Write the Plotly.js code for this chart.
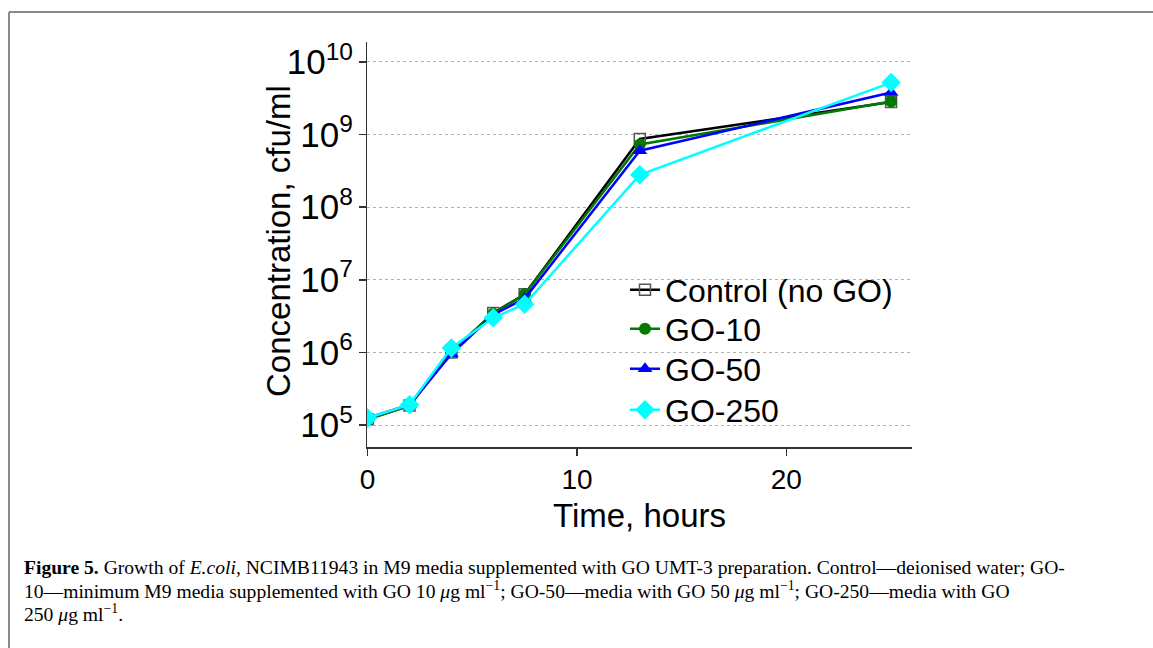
<!DOCTYPE html>
<html>
<head>
<meta charset="utf-8">
<script src="https://cdn.plot.ly/plotly-3.0.1.min.js"></script>
<style>
  html, body { margin: 0; padding: 0; background: #fff; }
  #chart { width: 1153px; height: 648px; }
</style>
</head>
<body>
<div id="chart"></div>
<script>
// ---- data ----
const timeHours = [0, 2, 4, 6, 7.5, 13, 25];
const seriesNames = ["Control (no GO)", "GO-10", "GO-50", "GO-250"];
const controlCfu = [1.2e5, 1.85e5, 1.0e6, 3.5e6, 6.3e6, 8.7e8, 2.8e9];
const go10Cfu    = [1.2e5, 1.85e5, 1.05e6, 3.4e6, 6.3e6, 7.3e8, 2.85e9];
const go50Cfu    = [1.25e5, 1.9e5, 0.95e6, 3.3e6, 5.5e6, 6.0e8, 3.8e9];
const go250Cfu   = [1.25e5, 1.9e5, 1.15e6, 3.0e6, 4.6e6, 2.8e8, 5.2e9];

const xTitle = "Time, hours";
const yTitle = "Concentration, cfu/ml";
const captionLines = [
  "<b>Figure 5.</b> Growth of <i>E.coli</i>, NCIMB11943 in M9 media supplemented with GO UMT-3 preparation. Control\u2014deionised water; GO-",
  "10\u2014minimum M9 media supplemented with GO 10 <i>\u03bc</i>g ml<sup>\u22121</sup>; GO-50\u2014media with GO 50 <i>\u03bc</i>g ml<sup>\u22121</sup>; GO-250\u2014media with GO",
  "250 <i>\u03bc</i>g ml<sup>\u22121</sup>."
];

// ---- layout geometry (pixels) ----
const W = 1153, H = 648;
const M = { l: 367, r: 241, t: 42, b: 201 };
const plotW = W - M.l - M.r, plotH = H - M.t - M.b;
const px2x = p => (p - M.l) / plotW;
const px2y = p => (H - M.b - p) / plotH;

const sans = "Liberation Sans, Arial, sans-serif";
const serif = "Liberation Serif, Times New Roman, serif";

const styles = [
  { color: "#000000", symbol: "square-open", size: 11, mline: 1.5 },
  { color: "#007a00", symbol: "circle", size: 12, mline: 0 },
  { color: "#0000ff", symbol: "triangle-up", size: 13, mline: 0 },
  { color: "#00ffff", symbol: "diamond", size: 15, mline: 0 }
];
const values = [controlCfu, go10Cfu, go50Cfu, go250Cfu];
const legendIds = ["legend", "legend2", "legend3", "legend4"];
const legendRowY = [290, 329, 369, 410];

const traces = values.map((v, i) => ({
  x: timeHours,
  y: v,
  name: seriesNames[i],
  legend: legendIds[i],
  type: "scatter",
  mode: "lines+markers",
  line: { color: styles[i].color, width: 2.5 },
  marker: {
    symbol: styles[i].symbol,
    size: styles[i].size,
    color: i === 0 ? "#555555" : styles[i].color,
    line: { width: styles[i].mline, color: i === 0 ? "#555555" : styles[i].color }
  }
}));

const captionAnn = captionLines.map((t, i) => ({
  xref: "paper", yref: "paper", x: px2x(22), y: px2y(567 + 23 * i),
  xanchor: "left", yanchor: "middle", align: "left", showarrow: false,
  text: t,
  font: { family: serif, size: 19.6, color: "#000" }
}));

const layout = {
  width: W, height: H,
  margin: M,
  paper_bgcolor: "#fff",
  plot_bgcolor: "#fff",
  font: { family: sans, color: "#000" },
  showlegend: true,
  xaxis: {
    range: [-0.03, 26.0],
    dtick: 10, tick0: 0,
    showgrid: false, zeroline: false,
    showline: true, linecolor: "#333", linewidth: 1.5,
    ticks: "outside", ticklen: 7, tickwidth: 1.5, tickcolor: "#333",
    tickfont: { family: sans, size: 28, color: "#000" },
    title: { text: xTitle, font: { family: sans, size: 33, color: "#000" }, standoff: 10 }
  },
  yaxis: {
    type: "log",
    range: [4.697, 10.275],
    dtick: 1,
    exponentformat: "power",
    showgrid: true, gridcolor: "#b0b0b0", griddash: "dot", gridwidth: 1,
    zeroline: false,
    showline: true, linecolor: "#333", linewidth: 1.5,
    ticks: "outside", ticklen: 7, tickwidth: 1.5, tickcolor: "#333",
    tickfont: { family: sans, size: 28, color: "#000" },
    title: { text: "" }
  },
  shapes: [
    { type: "line", xref: "paper", yref: "paper",
      x0: px2x(9), x1: px2x(9), y0: px2y(12), y1: px2y(H + 5),
      line: { color: "#8a8a8a", width: 2 } },
    { type: "line", xref: "paper", yref: "paper",
      x0: px2x(9), x1: px2x(W + 5), y0: px2y(12), y1: px2y(12),
      line: { color: "#8a8a8a", width: 2 } }
  ],
  annotations: [
    { xref: "paper", yref: "paper", x: px2x(278), y: px2y(241),
      xanchor: "center", yanchor: "middle", textangle: -90, showarrow: false,
      text: yTitle, font: { family: sans, size: 33, color: "#000" } }
  ].concat(captionAnn)
};

legendIds.forEach((id, i) => {
  layout[id] = {
    x: px2x(625), y: px2y(legendRowY[i]), xanchor: "left", yanchor: "middle",
    font: { family: sans, size: 32, color: "#000" },
    bgcolor: "rgba(0,0,0,0)",
    borderwidth: 0
  };
});

Plotly.newPlot("chart", traces, layout, { displayModeBar: false, staticPlot: true });
</script>
</body>
</html>
